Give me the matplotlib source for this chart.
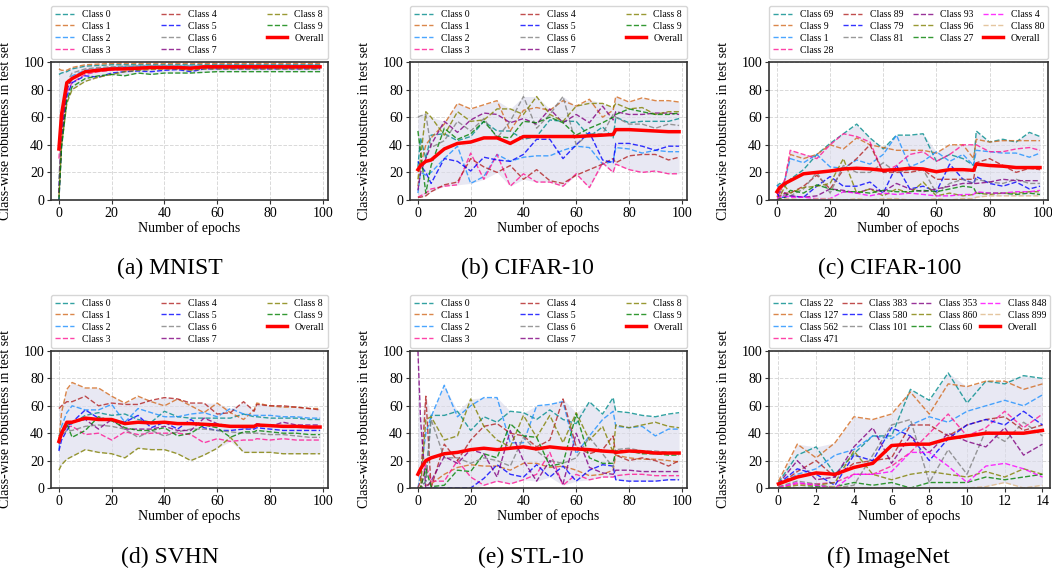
"""Class-wise robustness over training epochs for six datasets (2x3 panel figure)."""

import matplotlib
matplotlib.use("Agg")
import matplotlib.pyplot as plt
import numpy as np

plt.rcParams["font.family"] = ["Liberation Serif", "DejaVu Serif"]

# checkpoints used for the 100-epoch runs
EPOCHS = [0, 1, 3, 5, 10, 15, 20, 25, 30, 35, 40, 45, 50, 55, 60, 65, 70, 74, 75, 80, 85, 90, 95, 99]
IMAGENET_EPOCHS = list(range(15))

TEN_LABELS = [f"Class {i}" for i in range(10)]
CIFAR100_LABELS = ["Class 69", "Class 9", "Class 1", "Class 28", "Class 89", "Class 79",
                   "Class 81", "Class 93", "Class 96", "Class 27", "Class 4", "Class 80"]
IMAGENET_LABELS = ["Class 22", "Class 127", "Class 562", "Class 471", "Class 383", "Class 580",
                   "Class 101", "Class 353", "Class 860", "Class 60", "Class 848", "Class 899"]

MNIST_VALUES = [
    [91, 92, 93, 95, 97, 97.5, 98, 98, 98, 98, 98, 98, 98, 98, 98, 98, 98, 98, 98, 98, 98, 98, 98, 98],
    [95, 94, 94, 96, 98, 98.5, 99, 99, 99, 99, 99, 99, 99, 99, 99, 99, 99, 99, 99, 99, 99, 99, 99, 99],
    [10, 45, 80, 90, 94, 95, 96, 96.5, 97, 97, 97, 97, 97, 97, 97.5, 97.5, 97.5, 97.5, 97.5, 97.5, 97.5, 97.5, 97.5, 97.5],
    [30, 55, 78, 85, 91, 93, 94, 95, 95, 95.5, 96, 96, 96, 96, 96, 96, 96, 96, 96, 96, 96, 96, 96, 96],
    [5, 45, 82, 88, 93, 95, 95.5, 96, 96, 96, 96.5, 96.5, 96, 96.5, 97, 97, 97, 97, 97, 97, 97, 97, 97, 97],
    [0, 40, 75, 85, 90, 89, 92, 93, 93.5, 93, 94, 94.5, 93, 95, 95, 95, 95, 95, 95, 95, 95, 95, 95, 95],
    [15, 50, 85, 92, 95, 96, 96.5, 97, 97, 97, 97, 97, 97, 97, 97.5, 97.5, 97.5, 97.5, 97.5, 97.5, 97.5, 97.5, 97.5, 97.5],
    [5, 45, 80, 88, 93, 94.5, 95, 95.5, 96, 96, 96, 96, 96, 96, 96, 96, 96, 96, 96, 96, 96, 96, 96, 96],
    [2, 40, 70, 80, 86, 89, 91, 93, 94, 94.5, 95, 95, 94, 95, 95, 95, 95, 95, 95, 95, 95, 95, 95, 95],
    [0, 38, 72, 82, 88, 90, 91, 90, 92, 91, 92, 92, 92, 92.5, 93, 93, 93, 93, 93, 93, 93, 93, 93, 93],
]
MNIST_OVERALL = [37, 62, 85, 88, 93, 94, 95, 95, 95.5, 96, 96, 96, 95.5, 96.5, 96.5, 96.5,
                 96.5, 96.5, 96.5, 96.5, 96.5, 96.5, 96.5, 96.5]

CIFAR10_VALUES = [
    [24, 45, 30, 47, 48, 43, 46, 57, 50, 50, 44, 46, 58, 57, 57, 46, 53, 45, 60, 56, 57, 57, 57, 59],
    [10, 25, 40, 45, 55, 70, 66, 69, 72, 50, 65, 67, 65, 72, 68, 73, 60, 65, 75, 71, 74, 72, 72, 71],
    [5, 20, 18, 20, 30, 39, 12, 17, 33, 28, 31, 32, 32, 36, 39, 38, 26, 28, 38, 37, 34, 36, 35, 35],
    [2, 3, 5, 8, 10, 11, 34, 15, 33, 10, 19, 13, 13, 10, 19, 9, 27, 20, 26, 22, 20, 21, 19, 19],
    [2, 2, 3, 6, 11, 13, 30, 24, 20, 25, 15, 22, 14, 12, 18, 22, 26, 30, 27, 32, 33, 33, 29, 31],
    [28, 25, 20, 12, 30, 28, 21, 31, 29, 28, 33, 44, 44, 30, 40, 49, 29, 27, 41, 41, 39, 36, 39, 39],
    [60, 61, 62, 38, 43, 57, 50, 59, 45, 57, 75, 52, 62, 75, 40, 48, 48, 62, 60, 55, 55, 52, 55, 54],
    [7, 20, 30, 40, 57, 49, 58, 63, 62, 56, 59, 55, 66, 56, 62, 56, 68, 58, 64, 62, 62, 63, 63, 62],
    [15, 30, 64, 60, 47, 64, 57, 58, 66, 66, 62, 75, 62, 57, 68, 70, 70, 67, 70, 66, 67, 62, 64, 64],
    [50, 35, 5, 25, 52, 44, 48, 57, 46, 45, 57, 56, 60, 56, 47, 52, 56, 60, 62, 66, 64, 62, 62, 63],
]
CIFAR10_OVERALL = [22, 25, 28, 29, 37, 41, 42, 45, 45, 41, 46, 46, 46, 46, 46, 46.5, 47, 47.5,
                   51, 51, 50.5, 50, 49.5, 49.5]

CIFAR100_VALUES = [
    [10, 12, 10, 15, 22, 33, 41, 48, 55, 45, 37, 47, 47, 48, 28, 33, 30, 25, 50, 42, 44, 42, 49, 46],
    [2, 5, 15, 33, 30, 33, 40, 37, 45, 40, 38, 36, 36, 36, 34, 40, 40, 30, 44, 42, 43, 43, 43, 43],
    [11, 8, 15, 30, 27, 33, 24, 23, 29, 26, 33, 47, 24, 28, 35, 28, 33, 25, 36, 35, 34, 34, 31, 34],
    [3, 5, 15, 36, 33, 30, 40, 48, 46, 42, 20, 25, 33, 35, 28, 33, 40, 40, 40, 35, 35, 37, 38, 36],
    [2, 3, 5, 5, 10, 18, 8, 22, 30, 40, 20, 20, 20, 22, 15, 15, 15, 15, 27, 30, 25, 20, 23, 22],
    [5, 2, 2, 3, 2, 10, 17, 10, 10, 13, 5, 25, 8, 10, 6, 26, 15, 12, 17, 12, 10, 13, 8, 10],
    [0, 2, 4, 3, 8, 20, 5, 25, 20, 20, 27, 20, 22, 22, 5, 12, 15, 12, 15, 13, 12, 15, 12, 12],
    [5, 6, 5, 3, 2, 3, 8, 7, 5, 8, 6, 12, 8, 6, 8, 10, 12, 12, 12, 13, 15, 14, 14, 14],
    [0, 2, 10, 5, 9, 10, 12, 30, 5, 8, 3, 8, 5, 13, 3, 5, 3, 4, 5, 4, 5, 5, 6, 6],
    [0, 1, 2, 7, 5, 11, 8, 6, 6, 5, 7, 6, 6, 7, 6, 8, 10, 9, 5, 5, 5, 4, 5, 4],
    [1, 2, 3, 2, 2, 1, 1, 6, 5, 3, 5, 4, 5, 4, 3, 3, 4, 4, 6, 5, 5, 6, 6, 7],
    [0, 0, 1, 1, 0, 1, 1, 0, 1, 0, 1, 1, 0, 0, 1, 0, 1, 1, 2, 3, 3, 3, 3, 3],
]
CIFAR100_OVERALL = [6, 9, 12, 14, 19, 20, 21, 22.5, 23, 22.5, 21.5, 22, 23, 22.5, 20.5, 22, 22,
                    21.5, 26, 25, 24.5, 23.5, 23.5, 23.5]

SVHN_VALUES = [
    [38, 42, 46, 47, 53, 55, 53, 54, 50, 48, 56, 52, 51, 51, 51, 51, 54, 52, 52, 51, 51, 51, 50, 50],
    [35, 55, 72, 77, 73, 73, 67, 62, 67, 63, 60, 65, 60, 55, 62, 55, 50, 57, 62, 60, 59, 59, 58, 58],
    [28, 45, 55, 60, 57, 57, 61, 48, 58, 55, 52, 52, 54, 55, 52, 58, 54, 53, 53, 53, 52, 52, 51, 51],
    [36, 40, 45, 45, 39, 40, 35, 41, 39, 40, 40, 40, 39, 33, 36, 34, 35, 35, 36, 35, 36, 35, 35, 35],
    [58, 60, 63, 63, 67, 60, 62, 61, 61, 64, 66, 65, 62, 62, 54, 55, 63, 56, 61, 60, 60, 59, 58, 57],
    [27, 35, 42, 48, 57, 51, 50, 48, 53, 44, 48, 43, 50, 44, 42, 42, 43, 43, 44, 43, 42, 42, 42, 42],
    [35, 38, 42, 42, 45, 46, 45, 43, 37, 42, 38, 41, 43, 43, 42, 41, 40, 40, 40, 39, 39, 38, 37, 37],
    [32, 38, 45, 48, 50, 43, 50, 43, 43, 43, 45, 42, 42, 51, 47, 45, 44, 44, 47, 45, 48, 46, 46, 46],
    [13, 17, 21, 23, 28, 26, 25, 22, 29, 28, 28, 25, 20, 24, 29, 37, 26, 26, 26, 26, 25, 25, 25, 25],
    [33, 40, 47, 37, 42, 52, 49, 44, 42, 42, 44, 38, 40, 46, 44, 37, 41, 41, 42, 41, 40, 40, 39, 39],
]
SVHN_OVERALL = [34, 40, 48, 48, 51, 50, 50, 47, 48, 47.5, 48, 47, 47, 46.5, 46, 45, 45, 45, 46,
                45.5, 45, 45, 44.5, 44.5]

STL10_VALUES = [
    [0, 0, 5, 53, 53, 56, 42, 52, 48, 56, 55, 50, 57, 50, 47, 63, 54, 66, 56, 55, 53, 52, 54, 55],
    [0, 0, 2, 3, 10, 15, 17, 16, 16, 13, 18, 18, 15, 16, 13, 9, 10, 13, 24, 22, 21, 21, 20, 19],
    [0, 10, 40, 52, 75, 52, 60, 66, 66, 33, 33, 60, 61, 63, 25, 38, 50, 56, 45, 44, 45, 38, 43, 43],
    [0, 0, 17, 5, 5, 20, 8, 2, 5, 3, 6, 10, 26, 2, 10, 6, 8, 8, 9, 10, 10, 9, 9, 9],
    [0, 5, 67, 0, 32, 20, 35, 45, 47, 40, 38, 30, 35, 65, 30, 25, 28, 38, 24, 20, 22, 20, 16, 20],
    [0, 0, 0, 0, 0, 0, 0, 7, 17, 10, 8, 17, 8, 16, 5, 13, 17, 16, 6, 5, 5, 5, 6, 6],
    [0, 0, 5, 50, 22, 22, 18, 22, 20, 16, 37, 27, 20, 18, 22, 37, 25, 15, 28, 29, 27, 27, 26, 25],
    [100, 50, 0, 5, 23, 18, 28, 25, 8, 42, 20, 5, 20, 3, 40, 15, 11, 10, 13, 13, 12, 12, 12, 12],
    [0, 0, 50, 52, 35, 38, 65, 45, 35, 30, 53, 37, 53, 33, 55, 35, 45, 26, 46, 44, 46, 48, 45, 44],
    [0, 0, 14, 1, 2, 13, 12, 25, 22, 47, 38, 37, 16, 18, 54, 22, 18, 18, 27, 27, 25, 25, 24, 24],
]
STL10_OVERALL = [10, 14, 20, 22, 25, 26, 28, 29, 28, 29, 30, 28.5, 30, 29, 28.5, 28, 27, 26.5,
                 26, 27, 26.5, 25.5, 25.5, 25.5]

IMAGENET_VALUES = [
    [4, 24, 30, 10, 25, 38, 38, 72, 64, 84, 62, 78, 76, 82, 80],
    [5, 32, 22, 33, 52, 50, 54, 70, 54, 76, 74, 78, 78, 72, 76],
    [2, 10, 14, 24, 28, 38, 36, 46, 52, 48, 56, 60, 64, 60, 68],
    [1, 3, 3, 4, 10, 10, 16, 26, 40, 54, 38, 44, 56, 44, 54],
    [2, 12, 20, 8, 18, 20, 22, 46, 46, 38, 46, 50, 52, 42, 46],
    [3, 14, 10, 2, 24, 20, 44, 38, 20, 36, 46, 50, 46, 56, 46],
    [1, 5, 3, 0, 2, 24, 46, 50, 4, 28, 10, 42, 34, 48, 38],
    [3, 20, 6, 8, 30, 44, 18, 38, 26, 40, 34, 30, 44, 24, 32],
    [0, 2, 2, 4, 27, 10, 6, 10, 12, 10, 8, 12, 8, 14, 10],
    [0, 0, 1, 1, 4, 2, 4, 0, 4, 4, 4, 8, 6, 8, 10],
    [0, 4, 2, 0, 10, 10, 12, 26, 26, 16, 4, 16, 18, 14, 8],
    [0, 0, 0, 1, 0, 0, 0, 0, 0, 0, 0, 1, 4, 0, 2],
]
IMAGENET_OVERALL = [3, 8, 11, 10, 15, 18, 31, 32, 32, 36, 38, 40, 40, 40, 42]

COLORS = ["darkcyan", "chocolate", "dodgerblue", "deeppink", "firebrick", "blue",
          "gray", "purple", "olive", "green", "magenta", "burlywood"]

FIG_W, FIG_H = 1052, 571


def rect(left, top, right, bottom):
    return [left / FIG_W, 1 - bottom / FIG_H, (right - left) / FIG_W, (bottom - top) / FIG_H]


def draw_panel(fig, box, x, values, overall, labels, caption, cap_xy, xticks, xlim, ncol):
    ax = fig.add_axes(box)
    vals = np.array(values, dtype=float)
    ax.fill_between(x, vals.min(axis=0), vals.max(axis=0), color="#dadaeb", alpha=0.6,
                    lw=0, zorder=1)
    for row, label, color in zip(vals, labels, COLORS):
        ax.plot(x, row, "--", color=color, lw=1.0, alpha=0.8, label=label, zorder=2)
    ax.plot(x, overall, color="red", lw=2.5, label="Overall", zorder=3)

    ax.set_xlim(*xlim)
    ax.set_ylim(0, 100)
    ax.set_xticks(xticks)
    ax.set_yticks([0, 20, 40, 60, 80, 100])
    ax.grid(True, ls="--", color="#d0d0d0", lw=0.7, alpha=0.8, zorder=0)
    ax.set_axisbelow(True)
    for sp in ax.spines.values():
        sp.set_color("#333333")
        sp.set_linewidth(1.2)
    ax.tick_params(labelsize=10, length=3, pad=2, color="#333333")
    ax.set_xlabel("Number of epochs", fontsize=10, labelpad=1)
    ax.set_ylabel("Class-wise robustness in test set", fontsize=10, labelpad=8)

    ax.legend(loc="lower left", bbox_to_anchor=(0, 1.025, 1, 0.2), mode="expand",
              borderaxespad=0, ncol=ncol, fontsize=7, labelspacing=0.3)
    fig.text(cap_xy[0] / FIG_W, 1 - cap_xy[1] / FIG_H, caption, fontsize=17,
             ha="center", va="center")


def main():
    fig = plt.figure(figsize=(FIG_W / 100, FIG_H / 100), dpi=100)
    ep_ticks = [0, 20, 40, 60, 80, 100]
    ep_lim = (-3, 102)

    draw_panel(fig, rect(51, 62, 328, 200), EPOCHS, MNIST_VALUES, MNIST_OVERALL,
               TEN_LABELS, "(a) MNIST", (170, 268), ep_ticks, ep_lim, 3)
    draw_panel(fig, rect(410, 62, 687, 200), EPOCHS, CIFAR10_VALUES, CIFAR10_OVERALL,
               TEN_LABELS, "(b) CIFAR-10", (527, 268), ep_ticks, ep_lim, 3)
    draw_panel(fig, rect(769, 62, 1048, 200), EPOCHS, CIFAR100_VALUES, CIFAR100_OVERALL,
               CIFAR100_LABELS, "(c) CIFAR-100", (890, 268), ep_ticks, ep_lim, 4)
    draw_panel(fig, rect(51, 351, 328, 488), EPOCHS, SVHN_VALUES, SVHN_OVERALL,
               TEN_LABELS, "(d) SVHN", (170, 557), ep_ticks, ep_lim, 3)
    draw_panel(fig, rect(410, 351, 687, 488), EPOCHS, STL10_VALUES, STL10_OVERALL,
               TEN_LABELS, "(e) STL-10", (531, 557), ep_ticks, ep_lim, 3)
    draw_panel(fig, rect(769, 351, 1050, 488), IMAGENET_EPOCHS, IMAGENET_VALUES,
               IMAGENET_OVERALL, IMAGENET_LABELS, "(f) ImageNet", (888, 557),
               list(range(0, 15, 2)), (-0.5, 14.4), 4)

    fig.savefig("out.png", dpi=100)
    plt.close(fig)


if __name__ == "__main__":
    main()
